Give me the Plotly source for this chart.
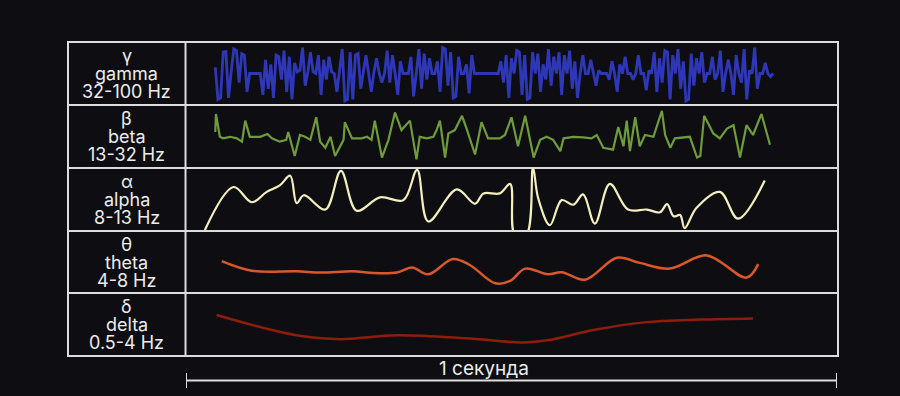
import numpy as np
import plotly.graph_objects as go

# ---------------- data ----------------
row_symbols = ["γ", "β", "α", "θ", "δ"]
row_names = ["gamma", "beta", "alpha", "theta", "delta"]
row_bands = ["32-100 Hz", "13-32 Hz", "8-13 Hz", "4-8 Hz", "0.5-4 Hz"]
scale_label = "1 секунда"

# gamma: evenly spaced samples between 0.045 s and 0.902 s
gamma_t_start, gamma_t_end = 0.045, 0.902
gamma_v = [
    0.2, -0.85, -0.8, 0.7, 0.72, -0.8, 0.05, 0.8, 0.75, -0.3, 0.65, 0.6, -0.6,
    0.0, 0.0, 0.0, 0.02, 0.0,
    -0.7, 0.45, -0.5, 0.3, -0.8, 0.6, 0.55, -0.2, 0.75, -0.6, 0.55, -0.85, 0.35,
    0.05, 0.1, 0.85, -0.4, 0.05, 0.7, 0.05, 0.0, 0.6,
    -0.7, 0.45, -0.2, 0.55, 0.05, 0.0, -0.6, 0.1,
    0.8, -0.9, -0.85, 0.7, -0.85, 0.6, 0.65, -0.5,
    0.0, 0.6, 0.0, -0.6, 0.05, 0.5, 0.0, -0.3, 0.0,
    0.75, -0.3, 0.6, 0.0, -0.7, 0.4, 0.0, 0.0, 0.0,
    0.55, -0.75, 0.0, 0.8, -0.5, 0.65, -0.2, 0.5, 0.0,
    0.0, 0.4, -0.6, 0.85, 0.8, -0.4, 0.7, -0.8, -0.75, 0.55, 0.0, 0.0,
    0.3, -0.65, 0.6, 0.0, 0.0, 0.0, 0.0, 0.02, 0.0, 0.0, 0.0, 0.0, 0.0, 0.4, -0.3,
    0.6, -0.8, 0.5, 0.0, 0.75, 0.7, -0.7, 0.6, -0.85, -0.8, 0.7, 0.0, 0.65, -0.6, 0.3, -0.2,
    0.8, -0.4, 0.55, 0.0, 0.7, -0.7, 0.6, 0.0, 0.75, -0.5, 0.4,
    -0.8, 0.0, 0.6, 0.0, 0.0, 0.45, 0.0, -0.4, 0.1, 0.0, 0.0, 0.0, -0.2, 0.4, 0.0, -0.6, 0.3, 0.0,
    0.55, 0.0, 0.0, -0.2, 0.0, 0.6, 0.0, 0.0, -0.55, 0.1, 0.0,
    0.7, -0.6, 0.5, -0.3, 0.75, 0.7, -0.85, 0.6, 0.0, 0.8, -0.5, 0.4, -0.9, -0.85, 0.65, -0.4, 0.5, 0.0, 0.7, -0.3,
    0.0, 0.0, 0.55, -0.2, 0.0, 0.75, -0.6, 0.0, 0.45, 0.0, -0.7, 0.6, 0.0, -0.3,
    0.8, -0.85, 0.1, 0.0, 0.85, -0.5, 0.0, 0.0, 0.35, 0.0, -0.1, 0.0,
]

beta_t = [
    0.045, 0.046, 0.052, 0.057, 0.068, 0.078, 0.086, 0.091, 0.098, 0.114,
    0.125, 0.132, 0.144, 0.154, 0.157, 0.167, 0.175, 0.183, 0.191, 0.200,
    0.206, 0.214, 0.222, 0.229, 0.242, 0.244, 0.255, 0.270, 0.278, 0.285,
    0.290, 0.301, 0.311, 0.321, 0.331, 0.344, 0.354, 0.359, 0.370, 0.380,
    0.385, 0.390, 0.398, 0.403, 0.413, 0.424, 0.431, 0.444, 0.454, 0.464,
    0.482, 0.490, 0.500, 0.510, 0.521, 0.534, 0.544, 0.554, 0.564, 0.575,
    0.580, 0.595, 0.610, 0.623, 0.631, 0.641, 0.656, 0.664, 0.672, 0.677,
    0.682, 0.690, 0.697, 0.705, 0.718, 0.723, 0.731, 0.736, 0.744, 0.751,
    0.774, 0.785, 0.790, 0.796, 0.810, 0.820, 0.831, 0.841, 0.851, 0.861,
    0.871, 0.884, 0.897,
]
beta_v = [
    0.15, 0.74, -0.01, -0.06, -0.01, -0.06, -0.17, 0.52, -0.01, -0.01,
    0.08, -0.06, -0.17, -0.11, 0.15, -0.64, 0.05, -0.01, -0.11, 0.63,
    -0.17, -0.37, -0.01, -0.64, -0.11, 0.47, -0.06, -0.06, -0.01, -0.11,
    0.52, -0.69, -0.11, 0.79, 0.21, 0.52, -0.75, -0.01, -0.06, -0.01,
    0.21, 0.52, -0.69, 0.10, 0.21, 0.68, 0.26, -0.59, 0.47, -0.06,
    -0.06, 0.05, 0.63, -0.32, 0.68, -0.69, -0.11, -0.01, -0.11, -0.48,
    -0.06, -0.01, -0.03, -0.06, 0.05, -0.37, -0.43, 0.31, -0.32, 0.52,
    -0.48, 0.63, -0.32, 0.05, -0.01, 0.31, 0.84, 0.05, -0.37, -0.06,
    -0.01, -0.69, -0.64, 0.68, 0.10, -0.06, 0.26, 0.37, -0.69, 0.37,
    0.05, 0.74, -0.27,
]

alpha_t = [
    0.029, 0.073, 0.101, 0.124, 0.144, 0.160, 0.170, 0.181, 0.214, 0.238,
    0.262, 0.298, 0.334, 0.355, 0.372, 0.416, 0.444, 0.457, 0.482, 0.498,
    0.505, 0.523, 0.533, 0.541, 0.559, 0.577, 0.595, 0.610, 0.628, 0.651,
    0.679, 0.708, 0.728, 0.739, 0.749, 0.759, 0.766, 0.784, 0.820, 0.848,
    0.889,
]
alpha_v = [
    -1.0, 0.41, -0.09, 0.25, 0.46, 0.78, -0.12, 0.14, -0.33, 0.94,
    -0.37, 0.07, -0.02, 0.97, -0.72, 0.33, -0.14, 0.20, 0.20, 0.51,
    -1.15, -1.15, 1.05, 0.04, -0.84, -0.02, -0.17, 0.17, -0.79, 0.51,
    -0.33, -0.33, -0.42, -0.15, -0.55, -0.51, -0.94, -0.28, 0.25, -0.63,
    0.62,
]

theta_t = [
    0.055, 0.101, 0.170, 0.206, 0.257, 0.283, 0.324, 0.347, 0.372, 0.410,
    0.436, 0.475, 0.498, 0.521, 0.556, 0.577, 0.613, 0.662, 0.697, 0.743,
    0.800, 0.861, 0.879,
]
theta_v = [
    0.03, -0.29, -0.31, -0.35, -0.31, -0.36, -0.35, -0.18, -0.41, 0.10,
    -0.10, -0.71, -0.63, -0.22, -0.41, -0.34, -0.59, 0.14, -0.03, -0.22,
    0.22, -0.52, -0.07,
]

delta_t = [0.047, 0.124, 0.177, 0.237, 0.324, 0.430, 0.517, 0.557, 0.624, 0.704, 0.790, 0.871]
delta_v = [0.31, -0.14, -0.38, -0.48, -0.35, -0.45, -0.59, -0.51, -0.19, 0.07, 0.16, 0.20]

# ---------------- styling ----------------
W, H = 900, 396
BG = "#0e0e12"
GRID = "#dcdcdc"
TXT = "#ececec"
FONT = "Inter, Noto Sans, DejaVu Sans, sans-serif"

colors = ["#2e37b8", "#6f9b3a", "#f4efbf", "#d9582b", "#8e1d0d"]
widths = [2.8, 2.2, 2.2, 2.5, 2.5]
shapes_line = ["linear", "linear", "spline", "spline", "spline"]

# layout geometry in pixels
left_px, div_px, right_px = 68, 185.5, 838
row_edges_px = [42, 105, 168, 231, 293, 356]
bar_y_px = 380.5

def px_x(p):
    return p / W

def px_y(p):
    return 1 - p / H

gamma_t = np.linspace(gamma_t_start, gamma_t_end, len(gamma_v))
series = [
    (gamma_t, gamma_v),
    (beta_t, beta_v),
    (alpha_t, alpha_v),
    (theta_t, theta_v),
    (delta_t, delta_v),
]

fig = go.Figure()
layout_axes = {}
for i, (t, v) in enumerate(series):
    yname = "y" if i == 0 else f"y{i+1}"
    fig.add_trace(go.Scatter(
        x=t, y=v, mode="lines", xaxis="x", yaxis=yname,
        line=dict(color=colors[i], width=widths[i], shape=shapes_line[i], smoothing=1.0),
        hoverinfo="skip", showlegend=False,
    ))
    top, bot = row_edges_px[i] + 1, row_edges_px[i + 1] - 1
    key = "yaxis" if i == 0 else f"yaxis{i+1}"
    layout_axes[key] = dict(
        domain=[px_y(bot), px_y(top)], range=[-1, 1], anchor="x",
        visible=False, fixedrange=True,
    )

x0 = px_x(186)
x1 = px_x(837)

shapes = []
shapes.append(dict(type="rect", xref="paper", yref="paper",
                   x0=px_x(left_px), x1=px_x(right_px),
                   y0=px_y(row_edges_px[-1]), y1=px_y(row_edges_px[0]),
                   line=dict(color=GRID, width=2)))
shapes.append(dict(type="line", xref="paper", yref="paper",
                   x0=px_x(div_px), x1=px_x(div_px),
                   y0=px_y(row_edges_px[-1]), y1=px_y(row_edges_px[0]),
                   line=dict(color=GRID, width=2)))
for e in row_edges_px[1:-1]:
    shapes.append(dict(type="line", xref="paper", yref="paper",
                       x0=px_x(left_px), x1=px_x(right_px),
                       y0=px_y(e), y1=px_y(e),
                       line=dict(color=GRID, width=2)))
# scale bar (1 second on the time axis)
shapes.append(dict(type="line", xref="x", yref="paper", x0=0, x1=1,
                   y0=px_y(bar_y_px), y1=px_y(bar_y_px),
                   line=dict(color=GRID, width=2)))
for xv in (0, 1):
    shapes.append(dict(type="line", xref="x", yref="paper", x0=xv, x1=xv,
                       y0=px_y(bar_y_px + 7.5), y1=px_y(bar_y_px - 7.5),
                       line=dict(color=GRID, width=2)))

annotations = []
label_cx = px_x((left_px + div_px) / 2)
for i in range(5):
    cy = (row_edges_px[i] + row_edges_px[i + 1]) / 2
    for k, txt in enumerate([row_symbols[i], row_names[i], row_bands[i]]):
        annotations.append(dict(
            x=label_cx, y=px_y(cy + (k - 1) * 18), xref="paper", yref="paper",
            text=txt, showarrow=False, xanchor="center", yanchor="middle",
            font=dict(family=FONT, size=18, color=TXT),
        ))
annotations.append(dict(
    x=0.458, y=px_y(368.5), xref="x", yref="paper", text=scale_label,
    showarrow=False, xanchor="center", yanchor="middle",
    font=dict(family=FONT, size=19, color=TXT),
))

fig.update_layout(
    width=W, height=H,
    margin=dict(l=0, r=0, t=0, b=0),
    paper_bgcolor=BG, plot_bgcolor=BG,
    xaxis=dict(domain=[x0, x1], range=[0, 1], visible=False, fixedrange=True),
    shapes=shapes, annotations=annotations,
    showlegend=False,
    **layout_axes,
)

fig.write_html("out.html", config={"displayModeBar": False})
